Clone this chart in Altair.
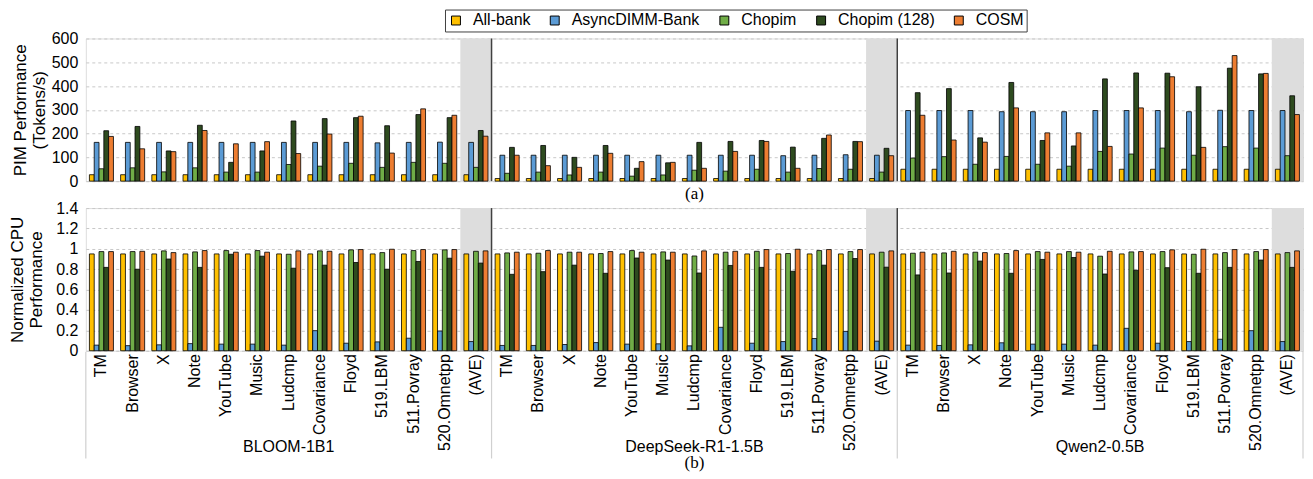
import altair as alt
import pandas as pd

groups = ["BLOOM-1B1", "DeepSeek-R1-1.5B", "Qwen2-0.5B"]
benchmarks = ["TM", "Browser", "X", "Note", "YouTube", "Music", "Ludcmp",
              "Covariance", "Floyd", "519.LBM", "511.Povray", "520.Omnetpp", "(AVE)"]
series = ["All-bank", "AsyncDIMM-Bank", "Chopim", "Chopim (128)", "COSM"]
colors = ["#FFC000", "#5B9BD5", "#70AD47", "#2E4B1F", "#ED7D31"]

# ---- PIM performance (Tokens/s) ----
pim_bloom_allbank = [27] * 13
pim_bloom_async = [163, 163, 163, 163, 163, 163, 163, 163, 163, 161, 163, 164, 163]
pim_bloom_chopim = [52, 56, 39, 56, 38, 38, 70, 63, 75, 58, 79, 75, 58]
pim_bloom_chopim128 = [212, 230, 127, 235, 79, 127, 253, 263, 267, 233, 280, 267, 213]
pim_bloom_cosm = [188, 136, 124, 213, 157, 166, 116, 198, 273, 118, 304, 277, 189]

pim_deep_allbank = [11] * 13
pim_deep_async = [109, 109, 109, 109, 109, 109, 109, 109, 109, 107, 109, 111, 109]
pim_deep_chopim = [33, 38, 26, 38, 21, 26, 46, 42, 50, 38, 53, 50, 38]
pim_deep_chopim128 = [142, 150, 100, 150, 54, 77, 163, 167, 171, 143, 180, 167, 138]
pim_deep_cosm = [109, 65, 58, 117, 82, 79, 54, 125, 167, 54, 194, 166, 107]

pim_qwen_allbank = [50] * 13
pim_qwen_async = [297, 297, 297, 292, 292, 292, 297, 297, 297, 292, 298, 297, 297]
pim_qwen_chopim = [97, 103, 71, 104, 71, 63, 125, 114, 139, 109, 145, 139, 107]
pim_qwen_chopim128 = [372, 389, 182, 415, 171, 148, 430, 455, 454, 397, 475, 451, 359]
pim_qwen_cosm = [277, 173, 164, 308, 203, 203, 146, 308, 439, 142, 528, 453, 280]

# ---- Normalized CPU performance ----
cpu_bloom_allbank = [0.95] * 13
cpu_bloom_async = [0.055, 0.05, 0.058, 0.07, 0.065, 0.065, 0.055, 0.197, 0.074, 0.087, 0.123, 0.194, 0.09]
cpu_bloom_chopim = [0.973, 0.973, 0.98, 0.97, 0.983, 0.983, 0.947, 0.98, 0.99, 0.963, 0.983, 0.99, 0.976]
cpu_bloom_chopim128 = [0.818, 0.80, 0.90, 0.818, 0.947, 0.928, 0.81, 0.84, 0.866, 0.80, 0.876, 0.908, 0.86]
cpu_bloom_cosm = [0.973, 0.976, 0.963, 0.983, 0.967, 0.967, 0.98, 0.976, 0.993, 0.996, 0.993, 0.993, 0.98]

cpu_deep_allbank = [0.95] * 13
cpu_deep_async = [0.052, 0.052, 0.061, 0.08, 0.065, 0.068, 0.048, 0.23, 0.074, 0.09, 0.12, 0.19, 0.094]
cpu_deep_chopim = [0.96, 0.957, 0.967, 0.954, 0.983, 0.97, 0.93, 0.967, 0.976, 0.954, 0.983, 0.973, 0.967]
cpu_deep_chopim128 = [0.75, 0.776, 0.84, 0.76, 0.91, 0.89, 0.763, 0.837, 0.818, 0.78, 0.84, 0.905, 0.82]
cpu_deep_cosm = [0.967, 0.983, 0.967, 0.973, 0.967, 0.967, 0.98, 0.976, 0.993, 0.996, 0.993, 0.993, 0.98]

cpu_qwen_allbank = [0.95] * 13
cpu_qwen_async = [0.055, 0.052, 0.058, 0.078, 0.065, 0.065, 0.055, 0.22, 0.074, 0.09, 0.113, 0.197, 0.09]
cpu_qwen_chopim = [0.957, 0.96, 0.967, 0.954, 0.973, 0.973, 0.928, 0.97, 0.973, 0.947, 0.963, 0.973, 0.963]
cpu_qwen_chopim128 = [0.744, 0.763, 0.88, 0.76, 0.896, 0.915, 0.753, 0.79, 0.815, 0.76, 0.818, 0.89, 0.818]
cpu_qwen_cosm = [0.967, 0.976, 0.963, 0.983, 0.967, 0.967, 0.976, 0.973, 0.99, 0.996, 0.993, 0.993, 0.98]

pim = {
    groups[0]: [pim_bloom_allbank, pim_bloom_async, pim_bloom_chopim, pim_bloom_chopim128, pim_bloom_cosm],
    groups[1]: [pim_deep_allbank, pim_deep_async, pim_deep_chopim, pim_deep_chopim128, pim_deep_cosm],
    groups[2]: [pim_qwen_allbank, pim_qwen_async, pim_qwen_chopim, pim_qwen_chopim128, pim_qwen_cosm],
}
cpu = {
    groups[0]: [cpu_bloom_allbank, cpu_bloom_async, cpu_bloom_chopim, cpu_bloom_chopim128, cpu_bloom_cosm],
    groups[1]: [cpu_deep_allbank, cpu_deep_async, cpu_deep_chopim, cpu_deep_chopim128, cpu_deep_cosm],
    groups[2]: [cpu_qwen_allbank, cpu_qwen_async, cpu_qwen_chopim, cpu_qwen_chopim128, cpu_qwen_cosm],
}

keys = [f"{g}|{b}" for g in groups for b in benchmarks]


def long_df(src):
    rows = []
    for g in groups:
        for si, s in enumerate(series):
            for bi, b in enumerate(benchmarks):
                rows.append({"key": f"{g}|{b}", "series": s, "value": src[g][si][bi]})
    return pd.DataFrame(rows)


pim_df = long_df(pim)
cpu_df = long_df(cpu)
ave_df = pd.DataFrame({"key": [f"{g}|(AVE)" for g in groups]})
sep_df = pd.DataFrame({"key": [f"{g}|TM" for g in groups[1:]]})
edge_left_df = pd.DataFrame({"key": [keys[0]]})
edge_right_df = pd.DataFrame({"key": [keys[-1]]})
grp_df = pd.DataFrame({"key": [f"{g}|Ludcmp" for g in groups], "group": groups})
lab_a = pd.DataFrame({"t": ["(a)"]})
lab_b = pd.DataFrame({"t": ["(b)"]})

SANS = "Liberation Sans"
SERIF = "Liberation Serif"
W = 1220
H1 = 143
H2 = 143
PI = 0.23
GAP = PI * (W / len(keys)) / 2  # half of the inner padding between categories

xscale = alt.Scale(domain=keys, paddingInner=PI, paddingOuter=PI / 2)


def X(axis, bp=None):
    kw = {}
    if bp is not None:
        kw["bandPosition"] = bp
    return alt.X("key:N", scale=xscale, axis=axis, title=None, **kw)


color_enc = alt.Color(
    "series:N",
    scale=alt.Scale(domain=series, range=colors),
    legend=alt.Legend(
        title=None, orient="none", legendX=360, legendY=-29, direction="horizontal",
        symbolType="square", symbolSize=80, symbolStrokeColor="black", symbolStrokeWidth=1,
        symbolOpacity=1, labelFont=SANS, labelFontSize=16, labelColor="black",
        strokeColor="#404040", padding=3, columnPadding=16, labelOffset=9,
    ),
)


def panel(df, H, ydomain, yvals, ytitle, xaxis, fmt, below, tx):
    yaxis = alt.Axis(values=yvals, title=ytitle, format=fmt, ticks=False, domain=False,
                     labelPadding=8, labelFont=SANS, labelFontSize=16, labelColor="black",
                     titleFont=SANS, titleFontSize=17, titleFontWeight="normal", titleColor="black",
                     titleLineHeight=19, titleAngle=270, titleX=tx, titleY=H / 2,
                     titleAlign="center", titleBaseline="middle",
                     grid=True, gridColor="#c8c8c8", gridDash=[3, 3], gridWidth=1)
    shade = alt.Chart(ave_df).mark_bar(color="#dddddd", width=alt.RelativeBandSize(1 / (1 - PI))).encode(
        x=X(xaxis), y=alt.value(0), y2=alt.value(H))
    bars = alt.Chart(df).mark_bar(stroke="black", strokeWidth=0.8).encode(
        x=X(xaxis),
        xOffset=alt.XOffset("series:N", sort=series, scale=alt.Scale(domain=series)),
        y=alt.Y("value:Q", scale=alt.Scale(domain=ydomain), axis=yaxis),
        color=color_enc,
    )
    seps = alt.Chart(sep_df).mark_rule(color="#404040", strokeWidth=1.5, xOffset=-GAP).encode(
        x=X(xaxis, 0), y=alt.value(0), y2=alt.value(H))
    layers = [shade, bars, seps]
    if below:
        low = alt.Chart(sep_df).mark_rule(color="#d0d0d0", strokeWidth=1.2, xOffset=-GAP).encode(
            x=X(xaxis, 0), y=alt.value(H + 1), y2=alt.value(H + 108))
        low_l = alt.Chart(edge_left_df).mark_rule(color="#d0d0d0", strokeWidth=1.2, xOffset=-GAP).encode(
            x=X(xaxis, 0), y=alt.value(H + 1), y2=alt.value(H + 108))
        low_r = alt.Chart(edge_right_df).mark_rule(color="#d0d0d0", strokeWidth=1.2, xOffset=GAP).encode(
            x=X(xaxis, 1), y=alt.value(H + 1), y2=alt.value(H + 108))
        gtext = alt.Chart(grp_df).mark_text(font=SANS, fontSize=16, baseline="middle", color="black").encode(
            x=X(xaxis), y=alt.value(H + 96), text="group:N")
        btext = alt.Chart(lab_b).mark_text(font=SERIF, fontSize=17, baseline="middle", color="black").encode(
            x=alt.value(W / 2), y=alt.value(H + 113), text="t:N")
        layers += [low, low_l, low_r, gtext, btext]
    else:
        atext = alt.Chart(lab_a).mark_text(font=SERIF, fontSize=17, baseline="middle", color="black").encode(
            x=alt.value(W / 2), y=alt.value(H + 13), text="t:N")
        layers += [atext]
    return alt.layer(*layers).properties(width=W, height=H)


top = panel(pim_df, H1, [0, 600], [0, 100, 200, 300, 400, 500, 600],
            ["PIM Performance", "(Tokens/s)"], None, "d", False, -65)

bottom_xaxis = alt.Axis(labelExpr="split(datum.label, '|')[1]", labelAngle=-90, ticks=False,
                        domain=False, labelFont=SANS, labelFontSize=16, labelColor="black",
                        labelPadding=3, labelOverlap=False, labelLimit=200, title=None)
bottom = panel(cpu_df, H2, [0, 1.4], [0, 0.2, 0.4, 0.6, 0.8, 1.0, 1.2, 1.4],
               ["Normalized CPU", "Performance"], bottom_xaxis, "~g", True, -68)

chart = alt.vconcat(top, bottom, spacing=27, bounds="flush").properties(
    padding={"left": 0, "top": 0, "right": 0, "bottom": 0}
).configure_view(stroke="#404040", strokeWidth=1.5).configure(background="white")

chart.save("out.html", embed_options={"renderer": "svg", "actions": False})
